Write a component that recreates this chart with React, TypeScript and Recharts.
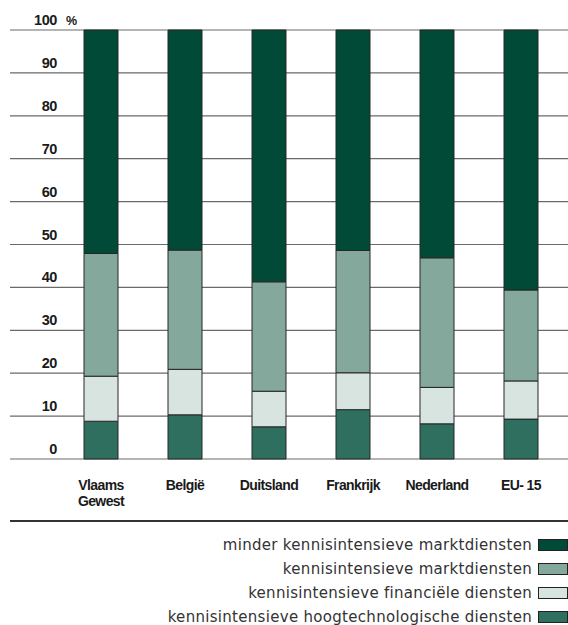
import { Bar, BarChart, CartesianGrid, Legend, XAxis, YAxis } from "recharts";

const categories = ["Vlaams\nGewest", "België", "Duitsland", "Frankrijk", "Nederland", "EU- 15"];
const hoogtech = [8.8, 10.3, 7.5, 11.5, 8.2, 9.3];
const financieel = [10.5, 10.6, 8.3, 8.6, 8.5, 8.9];
const markt = [28.6, 27.8, 25.5, 28.5, 30.2, 21.2];
const minder = [52.1, 51.3, 58.7, 51.4, 53.1, 60.6];
const yTicks = [0, 10, 20, 30, 40, 50, 60, 70, 80, 90, 100];

const series = [
  { key: "hoogtech", name: "kennisintensieve hoogtechnologische diensten", color: "#2f6f5f" },
  { key: "financieel", name: "kennisintensieve financiële diensten", color: "#d8e4e0" },
  { key: "markt", name: "kennisintensieve marktdiensten", color: "#84a99c" },
  { key: "minder", name: "minder kennisintensieve marktdiensten", color: "#004a37" },
];

const data = categories.map((c, i) => ({
  land: c,
  hoogtech: hoogtech[i],
  financieel: financieel[i],
  markt: markt[i],
  minder: minder[i],
}));

const bold = { fontFamily: "'Liberation Sans', Arial", fontWeight: 700, fill: "#1a1a1a" };

const YTick = ({ y, payload }: any) => (
  <g>
    <text x={57} y={y - 5} textAnchor="end" fontSize={14.5} letterSpacing={-0.4} {...bold}>
      {payload.value}
    </text>
    {payload.value === 100 && (
      <text x={66} y={y - 5} fontSize={12.5} {...bold}>%</text>
    )}
  </g>
);

const XTick = ({ x, y, payload }: any) => {
  const lines = String(payload.value).split("\n");
  return (
    <text x={x} y={y + 23} textAnchor="middle" fontSize={14} letterSpacing={-0.6} {...bold}>
      {lines.map((l, i) => (
        <tspan key={i} x={x} dy={i === 0 ? 0 : 16}>{l}</tspan>
      ))}
    </text>
  );
};

const LegendBox = () => (
  <div style={{ marginLeft: 10, width: 558, borderTop: "2.5px solid #333", paddingTop: 11, fontFamily: "'DejaVu Sans', sans-serif", fontSize: 15, letterSpacing: 0.3, color: "#333" }}>
    {[...series].reverse().map((s) => (
      <div key={s.key} style={{ display: "flex", justifyContent: "flex-end", alignItems: "center", height: 24 }}>
        <span>{s.name}</span>
        <span style={{ display: "inline-block", width: 28, height: 10, marginLeft: 6, background: s.color, border: "1px solid #222" }} />
      </div>
    ))}
  </div>
);

export default function App() {
  return (
    <div style={{ position: "absolute", left: 0, top: 0, background: "#fff" }}>
      <BarChart width={568} height={625} data={data} margin={{ top: 30, right: 0, left: 0, bottom: 0 }} barSize={34}>
        <CartesianGrid vertical={false} stroke="#6a6a6a" strokeWidth={1.2} />
        <XAxis dataKey="land" height={61} padding={{ left: 49, right: 5 }} axisLine={false} tickLine={false} tick={<XTick />} interval={0} />
        <YAxis width={10} domain={[0, 100]} ticks={yTicks} axisLine={false} tickLine={false} tick={<YTick />} />
        <Legend verticalAlign="bottom" content={<LegendBox />} wrapperStyle={{ left: 0, bottom: 0, width: 568, height: 105 }} />
        {series.map((s) => (
          <Bar key={s.key} dataKey={s.key} name={s.name} stackId="a" fill={s.color} stroke="#262626" strokeWidth={1} isAnimationActive={false} />
        ))}
      </BarChart>
    </div>
  );
}
